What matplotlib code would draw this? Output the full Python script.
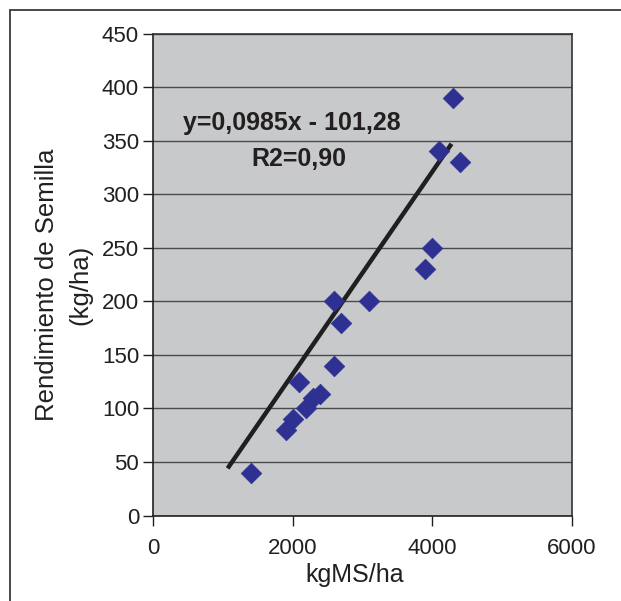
import matplotlib
matplotlib.use("Agg")
import matplotlib.pyplot as plt
from matplotlib.patches import Rectangle

plt.rcParams['font.family'] = ['Liberation Sans', 'DejaVu Sans']

# Forage dry matter (kgMS/ha) vs seed yield (kg/ha)
forage_dm = [1400, 1900, 2000, 2100, 2200, 2300, 2400, 2600, 2600, 2700,
             3100, 3900, 4000, 4100, 4300, 4400]
seed_yield = [40, 80, 90, 125, 100, 110, 113, 140, 200, 180,
              200, 230, 250, 340, 390, 330]

# Trend line end points
trend_x = [1070, 4280]
trend_y = [44, 347]

equation_text = "y=0,0985x - 101,28"
r2_text = "R2=0,90"

x_ticks = [0, 2000, 4000, 6000]
y_ticks = list(range(0, 451, 50))

text_color = '#231f20'

fig = plt.figure(figsize=(6.21, 6.01), dpi=100)
fig.patch.set_facecolor('white')

# Outer frame (left and top edges visible)
fig.patches.append(Rectangle((10 / 621, -0.05), 1.2, (601 - 10) / 601 + 0.05,
                             transform=fig.transFigure, fill=False,
                             edgecolor='#3a3a3a', linewidth=1.3))

ax = fig.add_axes([153 / 621, (601 - 515.5) / 601, (571.5 - 153) / 621, (515.5 - 33.5) / 601])
ax.set_facecolor('#c8c9cb')

ax.set_xlim(0, 6000)
ax.set_ylim(0, 450)
ax.set_xticks(x_ticks)
ax.set_yticks(y_ticks)
ax.set_xticklabels([str(v) for v in x_ticks])
ax.set_yticklabels([str(v) for v in y_ticks])

ax.yaxis.grid(True, color='#4a4a4a', linewidth=1.0)
ax.set_axisbelow(True)

for side in ['left', 'bottom']:
    ax.spines[side].set_color('#231f20')
    ax.spines[side].set_linewidth(1.2)
for side in ['top', 'right']:
    ax.spines[side].set_color('#333333')
    ax.spines[side].set_linewidth(1.2)

ax.tick_params(axis='both', direction='out', length=7, width=1.0,
               colors='#231f20', labelsize=16, labelcolor=text_color)
ax.tick_params(axis='x', pad=9)
ax.tick_params(axis='y', pad=3)

ax.plot(trend_x, trend_y, color='#1f1f1f', linewidth=3.2, solid_capstyle='butt', zorder=3)
ax.scatter(forage_dm, seed_yield, marker='D', s=110, color='#2e3192',
           edgecolors='#2e3192', linewidths=0.5, zorder=4)

ax.text(1990, 366, equation_text, ha='center', va='center', fontsize=18,
        fontweight='bold', color=text_color)
ax.text(2085, 333, r2_text, ha='center', va='center', fontsize=18,
        fontweight='bold', color=text_color)

ax.set_xlabel('kgMS/ha', fontsize=18, color=text_color)
ax.xaxis.set_label_coords(0.483, -0.098)
ax.set_ylabel('Rendimiento de Semilla\n(kg/ha)', fontsize=18.5, color=text_color,
              linespacing=1.45)
ax.yaxis.set_label_coords(-0.146, 0.479)

fig.savefig('out.png', dpi=100)
